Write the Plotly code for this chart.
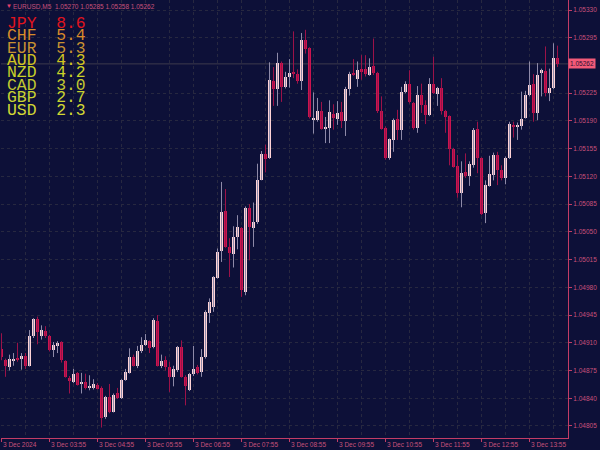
import plotly.graph_objects as go
import pandas as pd

# ---------------- data ----------------
symbol = "EURUSD,M5"
times = pd.date_range("2024-12-03 02:55", periods=140, freq="5min")

opens = [1.04902, 1.04888, 1.04880, 1.04887, 1.04891, 1.04889, 1.04893, 1.04881, 1.04918, 1.04940,
         1.04918, 1.04925, 1.04919, 1.04901, 1.04906, 1.04911, 1.04887, 1.04866, 1.04861, 1.04872,
         1.04858, 1.04860, 1.04854, 1.04853, 1.04857, 1.04853, 1.04816, 1.04842, 1.04823, 1.04846,
         1.04840, 1.04863, 1.04872, 1.04892, 1.04881, 1.04899, 1.04907, 1.04912, 1.04905, 1.04938,
         1.04881, 1.04888, 1.04879, 1.04867, 1.04876, 1.04905, 1.04867, 1.04851, 1.04870, 1.04879,
         1.04873, 1.04892, 1.04948, 1.04955, 1.04992, 1.05026, 1.05076, 1.05031, 1.05022, 1.05044,
         1.05055, 1.04974, 1.05080, 1.05055, 1.05062, 1.05116, 1.05148, 1.05143, 1.05241, 1.05230,
         1.05263, 1.05233, 1.05245, 1.05252, 1.05249, 1.05241, 1.05292, 1.05282, 1.05192, 1.05191,
         1.05202, 1.05180, 1.05181, 1.05199, 1.05193, 1.05201, 1.05190, 1.05230, 1.05250, 1.05243,
         1.05255, 1.05256, 1.05248, 1.05259, 1.05250, 1.05203, 1.05181, 1.05143, 1.05166, 1.05192,
         1.05179, 1.05226, 1.05236, 1.05213, 1.05181, 1.05223, 1.05210, 1.05197, 1.05237, 1.05224,
         1.05231, 1.05202, 1.05196, 1.05154, 1.05133, 1.05099, 1.05125, 1.05120, 1.05135, 1.05180,
         1.05143, 1.05074, 1.05108, 1.05122, 1.05147, 1.05128, 1.05118, 1.05143, 1.05185, 1.05183,
         1.05183, 1.05194, 1.05223, 1.05237, 1.05200, 1.05250, 1.05253, 1.05225, 1.05232, 1.05270]
highs = [1.04922, 1.04890, 1.04895, 1.04897, 1.04910, 1.04897, 1.04897, 1.04926, 1.04941, 1.04943,
         1.04932, 1.04931, 1.04920, 1.04911, 1.04912, 1.04912, 1.04888, 1.04868, 1.04877, 1.04873,
         1.04872, 1.04871, 1.04869, 1.04864, 1.04859, 1.04855, 1.04843, 1.04858, 1.04846, 1.04853,
         1.04864, 1.04877, 1.04903, 1.04895, 1.04906, 1.04917, 1.04921, 1.04913, 1.04941, 1.04945,
         1.04895, 1.04893, 1.04886, 1.04881, 1.04906, 1.04913, 1.04869, 1.04872, 1.04906, 1.04882,
         1.04902, 1.04951, 1.04966, 1.04994, 1.05029, 1.05113, 1.05104, 1.05042, 1.05057, 1.05071,
         1.05056, 1.05082, 1.05085, 1.05087, 1.05136, 1.05152, 1.05160, 1.05264, 1.05258, 1.05276,
         1.05265, 1.05252, 1.05268, 1.05303, 1.05255, 1.05301, 1.05305, 1.05283, 1.05226, 1.05219,
         1.05214, 1.05195, 1.05216, 1.05211, 1.05215, 1.05214, 1.05233, 1.05252, 1.05268, 1.05265,
         1.05273, 1.05273, 1.05269, 1.05294, 1.05252, 1.05221, 1.05183, 1.05168, 1.05193, 1.05204,
         1.05233, 1.05240, 1.05254, 1.05214, 1.05234, 1.05237, 1.05216, 1.05244, 1.05271, 1.05233,
         1.05244, 1.05204, 1.05197, 1.05156, 1.05147, 1.05139, 1.05149, 1.05139, 1.05181, 1.05189,
         1.05144, 1.05115, 1.05146, 1.05150, 1.05151, 1.05134, 1.05145, 1.05189, 1.05189, 1.05188,
         1.05227, 1.05228, 1.05265, 1.05249, 1.05263, 1.05256, 1.05284, 1.05256, 1.05288, 1.05285]
lows = [1.04888, 1.04867, 1.04875, 1.04881, 1.04886, 1.04876, 1.04877, 1.04880, 1.04916, 1.04908,
        1.04914, 1.04916, 1.04899, 1.04892, 1.04897, 1.04885, 1.04866, 1.04846, 1.04859, 1.04856,
        1.04846, 1.04851, 1.04850, 1.04851, 1.04851, 1.04803, 1.04814, 1.04821, 1.04822, 1.04839,
        1.04839, 1.04862, 1.04871, 1.04880, 1.04878, 1.04897, 1.04906, 1.04897, 1.04903, 1.04880,
        1.04878, 1.04875, 1.04848, 1.04855, 1.04873, 1.04866, 1.04831, 1.04849, 1.04868, 1.04870,
        1.04867, 1.04890, 1.04935, 1.04949, 1.04991, 1.05012, 1.05030, 1.04993, 1.05005, 1.05028,
        1.04968, 1.04970, 1.05014, 1.05031, 1.05060, 1.05115, 1.05125, 1.05142, 1.05209, 1.05209,
        1.05214, 1.05231, 1.05232, 1.05244, 1.05237, 1.05229, 1.05275, 1.05193, 1.05174, 1.05189,
        1.05179, 1.05162, 1.05162, 1.05179, 1.05185, 1.05181, 1.05171, 1.05222, 1.05247, 1.05233,
        1.05242, 1.05246, 1.05247, 1.05248, 1.05200, 1.05179, 1.05141, 1.05141, 1.05151, 1.05166,
        1.05166, 1.05225, 1.05212, 1.05179, 1.05175, 1.05200, 1.05186, 1.05196, 1.05224, 1.05209,
        1.05198, 1.05175, 1.05134, 1.05131, 1.05093, 1.05081, 1.05118, 1.05108, 1.05131, 1.05124,
        1.05071, 1.05061, 1.05107, 1.05115, 1.05109, 1.05115, 1.05110, 1.05142, 1.05169, 1.05166,
        1.05179, 1.05193, 1.05221, 1.05189, 1.05191, 1.05221, 1.05221, 1.05215, 1.05230, 1.05258]
closes = [1.04892, 1.04881, 1.04889, 1.04890, 1.04889, 1.04893, 1.04881, 1.04918, 1.04940, 1.04924,
          1.04926, 1.04919, 1.04901, 1.04907, 1.04910, 1.04888, 1.04867, 1.04862, 1.04871, 1.04857,
          1.04861, 1.04853, 1.04854, 1.04858, 1.04852, 1.04815, 1.04841, 1.04823, 1.04844, 1.04840,
          1.04863, 1.04873, 1.04892, 1.04881, 1.04900, 1.04907, 1.04913, 1.04904, 1.04939, 1.04881,
          1.04887, 1.04880, 1.04867, 1.04877, 1.04905, 1.04867, 1.04855, 1.04871, 1.04877, 1.04872,
          1.04892, 1.04949, 1.04962, 1.04993, 1.05024, 1.05075, 1.05031, 1.05023, 1.05043, 1.05056,
          1.04976, 1.05080, 1.05056, 1.05062, 1.05116, 1.05148, 1.05142, 1.05242, 1.05230, 1.05263,
          1.05233, 1.05246, 1.05251, 1.05249, 1.05240, 1.05292, 1.05281, 1.05195, 1.05192, 1.05202,
          1.05180, 1.05182, 1.05201, 1.05194, 1.05200, 1.05190, 1.05230, 1.05249, 1.05248, 1.05254,
          1.05253, 1.05249, 1.05258, 1.05250, 1.05203, 1.05180, 1.05143, 1.05167, 1.05191, 1.05179,
          1.05227, 1.05237, 1.05214, 1.05181, 1.05223, 1.05210, 1.05197, 1.05237, 1.05225, 1.05232,
          1.05202, 1.05195, 1.05154, 1.05132, 1.05099, 1.05124, 1.05120, 1.05136, 1.05179, 1.05143,
          1.05073, 1.05109, 1.05123, 1.05147, 1.05128, 1.05118, 1.05143, 1.05186, 1.05183, 1.05183,
          1.05192, 1.05223, 1.05235, 1.05200, 1.05248, 1.05254, 1.05225, 1.05232, 1.05269, 1.05262]

y_tick_labels = ["1.04805", "1.04840", "1.04875", "1.04910", "1.04945", "1.04980", "1.05015", "1.05050",
                 "1.05085", "1.05120", "1.05155", "1.05190", "1.05225", "1.05295", "1.05330"]
x_tick_times = ["2024-12-03 02:55", "2024-12-03 03:55", "2024-12-03 04:55", "2024-12-03 05:55",
                "2024-12-03 06:55", "2024-12-03 07:55", "2024-12-03 08:55", "2024-12-03 09:55",
                "2024-12-03 10:55", "2024-12-03 11:55", "2024-12-03 12:55", "2024-12-03 13:55"]
x_tick_labels = ["3 Dec 2024", "3 Dec 03:55", "3 Dec 04:55", "3 Dec 05:55", "3 Dec 06:55", "3 Dec 07:55",
                 "3 Dec 08:55", "3 Dec 09:55", "3 Dec 10:55", "3 Dec 11:55", "3 Dec 12:55", "3 Dec 13:55"]

currencies = ["JPY", "CHF", "EUR", "AUD", "NZD", "CAD", "GBP", "USD"]
strengths = [8.6, 5.4, 5.3, 4.3, 4.2, 3.0, 2.7, 2.3]

# ---------------- style ----------------
BG = "#0d1038"
BULL_BODY = "#ffd3d6"
BULL_WICK = "#8e8aa8"
BEAR_BODY = "#cc1450"
BEAR_WICK = "#9c1248"
GRID = "#272840"
AXIS = "#c23c66"
TXT = "#c8507a"
legend_colors = ["#e0141e", "#d88a2a", "#c89232", "#d2c421", "#cad228", "#c2c830", "#c8d232", "#d2d834"]

W, H = 600, 450
ML, MR, MT, MB = 1, 32, 0, 12
plot_w = W - ML - MR
plot_h = H - MT - MB
bar_ms = 5 * 60 * 1000
px_ms = bar_ms / 4.0  # 4 px per bar

fig = go.Figure()

def wick_xy(sel):
    xs, ys = [], []
    for i in sel:
        xs += [times[i], times[i], None]
        ys += [lows[i], highs[i], None]
    return xs, ys

bull_idx = [i for i in range(len(times)) if closes[i] >= opens[i]]
bear_idx = [i for i in range(len(times)) if closes[i] < opens[i]]

for sel, col in ((bull_idx, BULL_WICK), (bear_idx, BEAR_WICK)):
    xs, ys = wick_xy(sel)
    fig.add_trace(go.Scatter(x=xs, y=ys, mode="lines", line=dict(color=col, width=1),
                             hoverinfo="skip", showlegend=False))

min_body = 0.000012
for sel, col in ((bull_idx, BULL_BODY), (bear_idx, BEAR_BODY)):
    fig.add_trace(go.Bar(
        x=[times[i] for i in sel],
        base=[min(opens[i], closes[i]) for i in sel],
        y=[max(abs(closes[i] - opens[i]), min_body) for i in sel],
        width=bar_ms * 0.75,
        marker=dict(color=col, line=dict(width=0)),
        showlegend=False, hoverinfo="skip"))

t0 = times[0] - pd.Timedelta(milliseconds=0.5 * px_ms)
t1 = t0 + pd.Timedelta(milliseconds=plot_w * px_ms)
p_per_px = 0.00035 / 27.73
y_top = 1.05330 + 10 * p_per_px
y_bot = y_top - plot_h * p_per_px

hour_vals = [pd.Timestamp(t) for t in x_tick_times]

fig.update_layout(
    width=W, height=H,
    margin=dict(l=ML, r=MR, t=MT, b=MB, pad=0),
    paper_bgcolor=BG, plot_bgcolor=BG,
    barmode="overlay", bargap=0,
    showlegend=False,
    font=dict(family="Liberation Sans, Arial, sans-serif", size=7, color=TXT),
    xaxis=dict(
        type="date", range=[t0, t1], fixedrange=True,
        tickmode="array", tickvals=hour_vals, ticktext=[""] * len(hour_vals),
        ticks="outside", ticklen=3, tickcolor=AXIS, tickwidth=1,
        showgrid=True, gridcolor=GRID, griddash="dot", gridwidth=1,
        minor=dict(tickmode="linear", tick0=times[0], dtick=30 * 60 * 1000,
                   showgrid=True, gridcolor=GRID, griddash="dot", ticks=""),
        showline=True, linecolor=AXIS, linewidth=1,
        zeroline=False, rangeslider=dict(visible=False),
    ),
    yaxis=dict(
        side="right", range=[y_bot, y_top], fixedrange=True,
        tickmode="array", tickvals=[float(v) for v in y_tick_labels], ticktext=y_tick_labels,
        ticks="outside", ticklen=3, tickcolor=AXIS, tickwidth=1,
        tickfont=dict(size=6.5, color=TXT),
        showgrid=True, gridcolor=GRID, griddash="dot", gridwidth=1,
        showline=True, linecolor=AXIS, linewidth=1,
        zeroline=False, automargin=False,
    ),
)

last = closes[-1]
fig.add_shape(type="line", xref="paper", x0=0, x1=1, yref="y", y0=last, y1=last,
              line=dict(color="#3e3a4c", width=1), layer="below")

annotations = []
for t, lab in zip(hour_vals, x_tick_labels):
    annotations.append(dict(x=t, y=0, xref="x", yref="paper", text=lab, showarrow=False,
                            xanchor="left", yanchor="top", yshift=-1, xshift=-1,
                            font=dict(size=6.5, color=TXT)))
annotations.append(dict(x=1, y=last, xref="paper", yref="y", text=f"{last:.5f}", showarrow=False,
                        xanchor="left", yanchor="middle", xshift=0, bgcolor="#f25a78", borderpad=1,
                        font=dict(size=6.5, color="#2a1030")))
annotations.append(dict(x=3 / plot_w, y=1 - 6 / plot_h, xref="paper", yref="paper", text="▼",
                        showarrow=False, xanchor="left", yanchor="middle",
                        font=dict(size=6, color="#e8406e")))
annotations.append(dict(x=10 / plot_w, y=1 - 6 / plot_h, xref="paper", yref="paper",
                        text=f"{symbol}  {opens[-1]:.5f} {highs[-1]:.5f} {lows[-1]:.5f} {closes[-1]:.5f}",
                        showarrow=False, xanchor="left", yanchor="middle",
                        font=dict(size=6.5, color=TXT)))
for k, (cur, val) in enumerate(zip(currencies, strengths)):
    yc = 23 + k * 12.5
    annotations.append(dict(x=4 / plot_w, y=1 - yc / plot_h, xref="paper", yref="paper",
                            text=f"{cur}  {val:.1f}", showarrow=False, xanchor="left", yanchor="middle",
                            font=dict(family="Liberation Mono, Courier New, monospace", size=16.4,
                                      color=legend_colors[k])))
fig.update_layout(annotations=annotations)

fig.write_html("out.html", config={"displayModeBar": False},
               post_script="document.body.style.margin='0';document.body.style.padding='0';"
                           "document.body.style.overflow='hidden';document.body.style.background='" + BG + "';")
